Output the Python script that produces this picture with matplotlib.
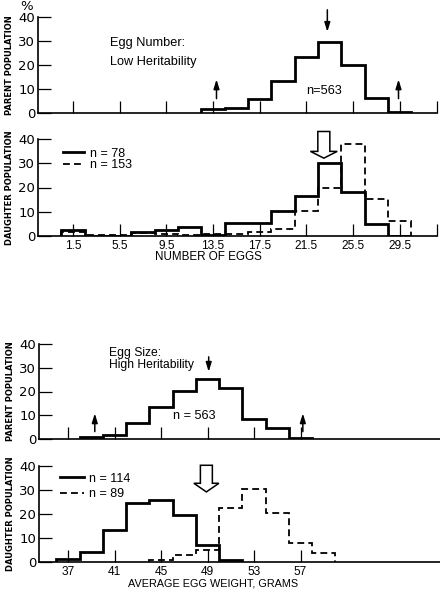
import matplotlib
matplotlib.use("Agg")
import matplotlib.pyplot as plt
from matplotlib.lines import Line2D
from matplotlib.patches import FancyArrow
from matplotlib import font_manager
import numpy as np

# ---------------- data ----------------
# Egg number (bins 2 eggs wide, centred on odd .5 values)
num_tick_values = [1.5, 5.5, 9.5, 13.5, 17.5, 21.5, 25.5, 29.5]
num_tick_labels = ["1.5", "5.5", "9.5", "13.5", "17.5", "21.5", "25.5", "29.5"]

parent_num_centers = [13.5, 15.5, 17.5, 19.5, 21.5, 23.5, 25.5, 27.5, 29.5]
parent_num_pct = [1.5, 2.0, 5.8, 13.5, 23.2, 29.6, 20.0, 6.2, 0.4]

daughter_num_centers = [1.5, 3.5, 5.5, 7.5, 9.5, 11.5, 13.5, 15.5, 17.5,
                        19.5, 21.5, 23.5, 25.5, 27.5, 29.5]
daughter_num_low = [2.3, 0.0, 0.0, 1.8, 2.3, 3.9, 0.3, 5.2, 5.2,
                    10.5, 16.5, 30.0, 18.0, 5.0, 0.0]       # n = 78
daughter_num_high = [1.8, 0.6, 0.6, 1.4, 0.8, 0.6, 0.8, 0.8, 1.5,
                     2.8, 10.5, 20.0, 38.0, 15.2, 6.0]      # n = 153

# Egg weight (bins 2 g wide, centred on odd values)
wt_tick_values = [37, 41, 45, 49, 53, 57]
wt_tick_labels = ["37", "41", "45", "49", "53", "57"]

parent_wt_centers = [39, 41, 43, 45, 47, 49, 51, 53, 55, 57]
parent_wt_pct = [0.7, 1.8, 6.7, 13.3, 20.4, 25.3, 21.4, 8.5, 4.6, 0.4]

daughter_wt_low_centers = [37, 39, 41, 43, 45, 47, 49, 51]
daughter_wt_low = [1.4, 4.2, 13.5, 24.6, 25.7, 19.4, 7.0, 1.0]      # n = 114
daughter_wt_high_centers = [45, 47, 49, 51, 53, 55, 57, 59]
daughter_wt_high = [0.7, 3.1, 5.1, 22.4, 30.4, 20.4, 7.9, 3.8]      # n = 89

y_ticks = [0, 10, 20, 30, 40]
BIN = 2.0


def edges(centers):
    c = np.asarray(centers, dtype=float)
    return np.append(c - BIN / 2, c[-1] + BIN / 2)


# ---------------- styling ----------------
plt.rcParams['font.family'] = ['DejaVu Sans']
LIB = ['Liberation Sans', 'DejaVu Sans']
installed = {f.name for f in font_manager.fontManager.ttflist}
if 'Liberation Sans Narrow' in installed:
    YLAB_FAM, YLAB_SIZE = ['Liberation Sans Narrow', 'DejaVu Sans'], 6.9
else:
    YLAB_FAM, YLAB_SIZE = ['DejaVu Sans'], 6.0

LW_SOLID = 2.0
LW_DASH = 1.3
DASH = (0, (3.8, 2.3))
W, H = 440, 590

fig = plt.figure(figsize=(W / 100, H / 100), dpi=100)
ax1 = fig.add_axes([38 / W, 1 - 113 / H, 399 / W, 96 / H])
ax2 = fig.add_axes([38 / W, 1 - 236 / H, 399 / W, 97 / H])
ax3 = fig.add_axes([39 / W, 1 - 439 / H, 401 / W, 95 / H])
ax4 = fig.add_axes([39 / W, 1 - 562 / H, 401 / W, 96 / H])

num_xlim = (-1.5, 32.7)
wt_xlim = (34.5, 69.0)

for ax, xl, xt in [(ax1, num_xlim, num_tick_values + [num_xlim[1]]),
                   (ax2, num_xlim, num_tick_values + [num_xlim[1]]),
                   (ax3, wt_xlim, wt_tick_values),
                   (ax4, wt_xlim, wt_tick_values)]:
    ax.set_xlim(*xl)
    ax.set_ylim(0, 40)
    ax.spines['top'].set_visible(False)
    ax.spines['right'].set_visible(False)
    for s in ('left', 'bottom'):
        ax.spines[s].set_linewidth(1.2)
    ax.set_yticks(y_ticks)
    ax.set_xticks(xt)
    ax.tick_params(axis='y', direction='in', length=9.5, width=0.9,
                   labelsize=9.5, pad=2)
    ax.tick_params(axis='x', direction='in', length=8.5, width=0.9,
                   labelsize=8.6, pad=3)
    ax.patch.set_alpha(0)

ax1.set_xticklabels([])
ax3.set_xticklabels([])
ax2.set_xticklabels(num_tick_labels + [""], family=LIB)
ax4.set_xticklabels(wt_tick_labels, family=LIB)

# ---------------- histograms ----------------
ax1.stairs(parent_num_pct, edges(parent_num_centers), color='k', lw=LW_SOLID,
           baseline=0)
ax2.stairs(daughter_num_high, edges(daughter_num_centers), color='k',
           lw=LW_DASH, ls=DASH, baseline=0)
ax2.stairs(daughter_num_low, edges(daughter_num_centers), color='k',
           lw=LW_SOLID, baseline=0)
ax3.stairs(parent_wt_pct, edges(parent_wt_centers), color='k', lw=LW_SOLID,
           baseline=0)
ax4.stairs(daughter_wt_high, edges(daughter_wt_high_centers), color='k',
           lw=LW_DASH, ls=DASH, baseline=0)
ax4.stairs(daughter_wt_low, edges(daughter_wt_low_centers), color='k',
           lw=LW_SOLID, baseline=0)

# ---------------- arrows ----------------
small = dict(arrowstyle='-|>,head_length=0.55,head_width=0.17', color='k',
             lw=1.1, shrinkA=0, shrinkB=0, mutation_scale=10)


def small_arrow(ax, x, y_from, y_to):
    ax.annotate('', xy=(x, y_to), xytext=(x, y_from), arrowprops=small,
                annotation_clip=False)


small_arrow(ax1, 23.3, 43.0, 33.8)
small_arrow(ax1, 13.8, 6.0, 14.0)
small_arrow(ax1, 29.4, 6.0, 14.0)
small_arrow(ax3, 49.1, 34.6, 28.3)
small_arrow(ax3, 39.3, 3.1, 10.8)
small_arrow(ax3, 57.2, 3.1, 10.8)


def open_arrow(ax, x, y_top, y_tip, head_len, width, head_width):
    ax.add_patch(FancyArrow(x, y_top, 0, y_tip - y_top, width=width,
                            head_width=head_width, head_length=head_len,
                            length_includes_head=True, fill=False,
                            ec='k', lw=1.1, clip_on=False))


open_arrow(ax2, 23.0, 43.1, 32.1, 2.8, 1.03, 2.3)
open_arrow(ax4, 48.9, 40.3, 29.2, 3.6, 1.03, 2.15)

# ---------------- texts ----------------
ax1.text(4.7, 29.2, "Egg Number:", fontsize=9.2, va='center', ha='left',
         family=LIB)
ax1.text(4.7, 21.3, "Low Heritability", fontsize=9.2, va='center', ha='left',
         family=LIB)
ax1.text(21.5, 9.2, "n=563", fontsize=9.2, va='center', ha='left', family=LIB)
ax3.text(40.5, 36.4, "Egg Size:", fontsize=8.7, va='center', ha='left',
         family=LIB)
ax3.text(40.5, 31.3, "High Heritability", fontsize=8.7, va='center',
         ha='left', family=LIB)
ax3.text(46.0, 9.7, "n = 563", fontsize=9.1, va='center', ha='left',
         family=LIB)

fig.text(27 / W, 1 - 6 / H, "%", fontsize=9.5, ha='center', va='center')

# legends
h_solid = Line2D([], [], color='k', lw=LW_SOLID)
h_dash = Line2D([], [], color='k', lw=LW_DASH, ls=DASH)
ax2.legend([h_solid, h_dash], ["n = 78", "n = 153"], loc='upper left',
           bbox_to_anchor=(0.063, 0.91), frameon=False,
           prop=dict(family=LIB, size=9),
           handlelength=1.7, handletextpad=0.45, labelspacing=-0.05,
           borderpad=0, borderaxespad=0)
ax4.legend([h_solid, h_dash], ["n = 114", "n = 89"], loc='upper left',
           bbox_to_anchor=(0.052, 0.93), frameon=False,
           prop=dict(family=LIB, size=9),
           handlelength=1.9, handletextpad=0.45, labelspacing=0.3,
           borderpad=0, borderaxespad=0)

# axis labels
ax2.set_xlabel("NUMBER OF EGGS", fontsize=8.4, family=LIB)
ax2.xaxis.set_label_coords(0.427, -0.216)
ax2.xaxis.label.set_verticalalignment('center')
ax4.set_xlabel("AVERAGE EGG WEIGHT, GRAMS", fontsize=7.8, family=LIB)
ax4.xaxis.set_label_coords(0.433, -0.225)
ax4.xaxis.label.set_verticalalignment('center')

ylab = dict(fontsize=YLAB_SIZE, fontweight='bold', family=YLAB_FAM)
for ax, lab in [(ax1, "PARENT POPULATION"), (ax2, "DAUGHTER POPULATION"),
                (ax3, "PARENT POPULATION"), (ax4, "DAUGHTER POPULATION")]:
    ax.set_ylabel(lab, **ylab)
    ax.yaxis.set_label_coords((10 - 38) / 399, 0.5)
    ax.yaxis.label.set_verticalalignment('center')

fig.savefig("out.png", dpi=100)
